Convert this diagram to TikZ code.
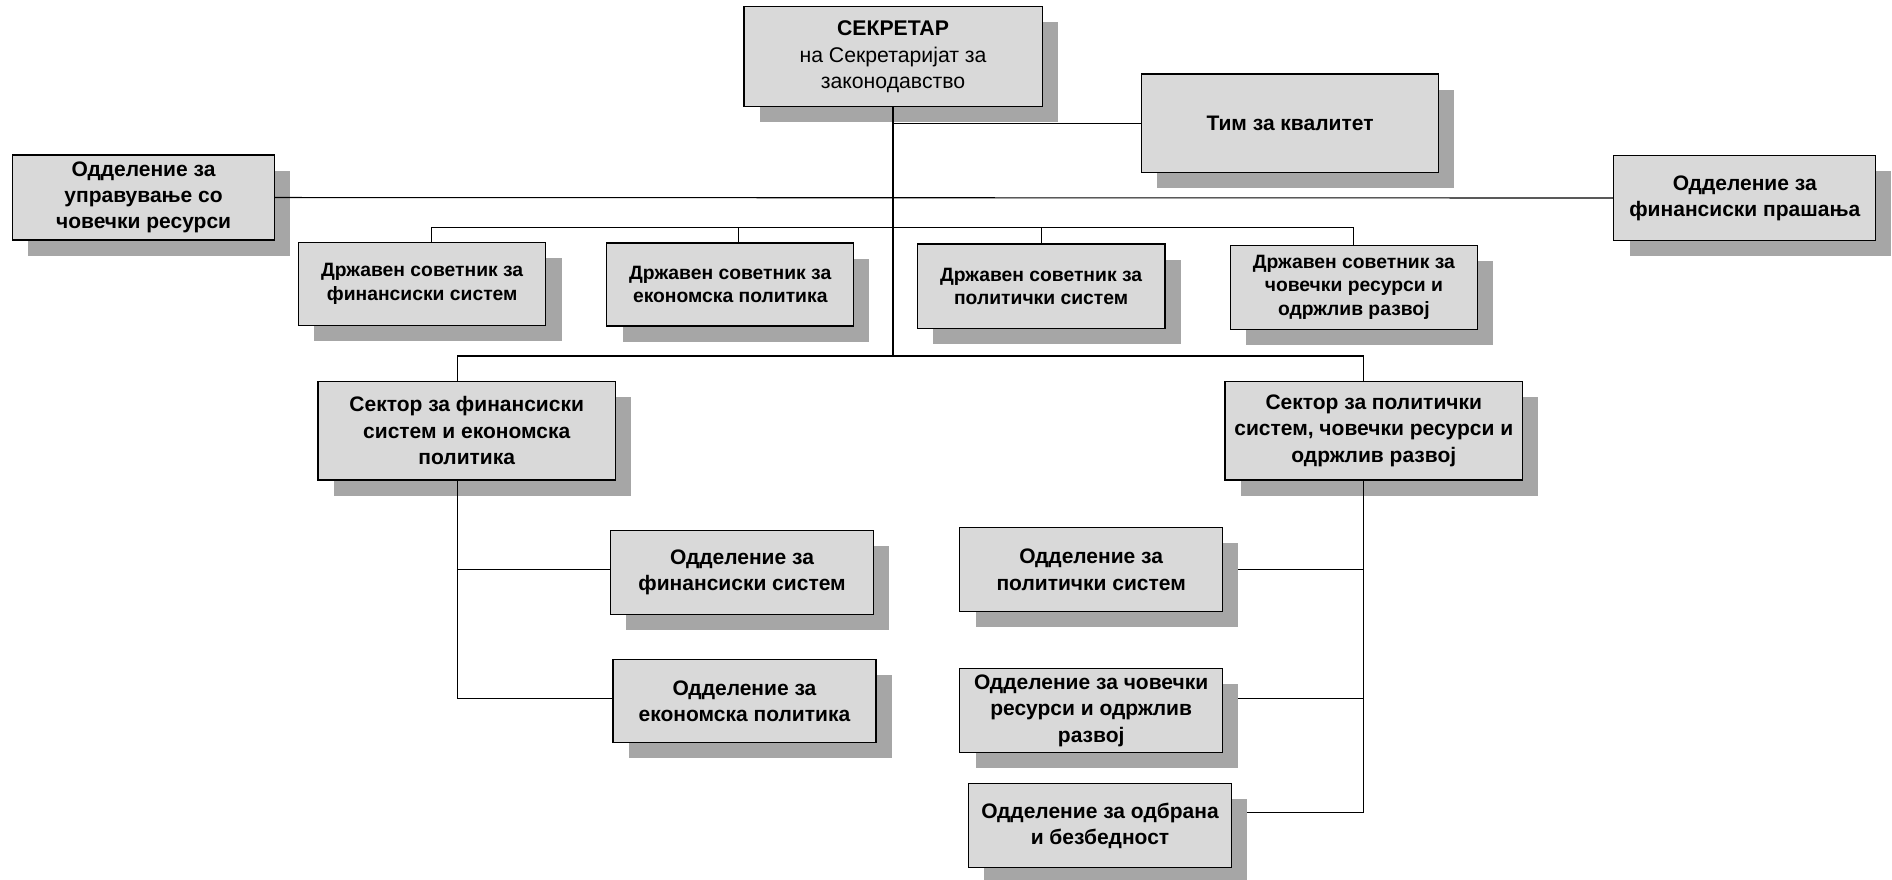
\documentclass[tikz,border=0pt]{standalone}
\usepackage{fontspec}
\setmainfont{Liberation Sans}
\usetikzlibrary{shadows,calc}
\definecolor{boxgray}{RGB}{217,217,217}
\definecolor{shadowgray}{RGB}{166,166,166}
\pgfdeclarelayer{background}
\pgfsetlayers{background,main}
\begin{document}
\begin{tikzpicture}[x=0.5pt,y=-0.5pt,
  orgbox/.style={draw=black, line width=0.5pt, fill=boxgray, align=center, inner sep=0pt,
    font=\bfseries\fontsize{8.7}{10.9}\selectfont,
    general shadow={fill=shadowgray, shadow xshift=6.5pt, shadow yshift=-6.5pt}},
  advbox/.style={orgbox, font=\bfseries\fontsize{8}{9.6}\selectfont},
  bx/.style 2 args={minimum width=#1*0.5pt, minimum height=#2*0.5pt},
  conn/.style={draw=black, line width=0.45pt}]
\useasboundingbox (0,0) rectangle (1568,729);

% nodes
\node[orgbox, bx={247.2}{82.9}, font=\fontsize{8.8}{11}\selectfont] (sec) at (740.1,47) {\textbf{СЕКРЕТАР}\\на Секретаријат за\\законодавство};
\node[orgbox, bx={246.6}{81.7}] (tim) at (1069.1,102.2) {Тим за квалитет};
\node[orgbox, bx={217}{70.4}] (hr) at (119,163.7) {Одделение за\\управување со\\човечки ресурси};
\node[orgbox, bx={217}{70}] (fp) at (1446,164.1) {Одделение за\\финансиски прашања};

\node[advbox, bx={205}{68.3}] (a1) at (349.9,235.3) {Државен советник за\\финансиски систем};
\node[advbox, bx={204.5}{68.8}] (a2) at (605.2,235.8) {Државен советник за\\економска политика};
\node[advbox, bx={205.5}{70}] (a3) at (862.8,237.2) {Државен советник за\\политички систем};
\node[advbox, bx={205}{69.6}] (a4) at (1122,238.1) {Државен советник за\\човечки ресурси и\\одржлив развој};

\node[orgbox, bx={246.4}{81.5}] (s1) at (386.8,357) {Сектор за финансиски\\систем и економска\\политика};
\node[orgbox, bx={246.5}{81.5}] (s2) at (1138.5,357) {Сектор за политички\\систем, човечки ресурси и\\одржлив развој};

\node[orgbox, bx={218.2}{69.1}] (f1) at (615,474.4) {Одделение за\\финансиски систем};
\node[orgbox, bx={218}{69.3}] (f2) at (617,580.9) {Одделение за\\економска политика};

\node[orgbox, bx={217.6}{69.6}] (pol) at (904.3,472.1) {Одделение за\\политички систем};
\node[orgbox, bx={217.6}{69.6}] (hum) at (904.3,589) {Одделение за човечки\\ресурси и одржлив\\развој};
\node[orgbox, bx={218.2}{69.3}] (od) at (911.6,684.2) {Одделение за одбрана\\и безбедност};

% junctions and connector ends
\coordinate (jA) at (740.1,188.8);
\coordinate (jS) at (740.1,295);
\coordinate (a1n) at ([xshift=3.95pt]a1.north);
\coordinate (a2n) at ([xshift=3.55pt]a2.north);
\coordinate (s1n) at ([xshift=-4pt]s1.north);
\coordinate (s2n) at ([xshift=-4.2pt]s2.north);
\coordinate (lv) at ([xshift=-4pt]s1.south);
\coordinate (rv) at ([xshift=-4.2pt]s2.south);
\coordinate (f1w) at ([yshift=1.3pt]f1.west);
\coordinate (f2w) at ([yshift=1pt]f2.west);
\coordinate (hume) at ([yshift=5pt]hum.east);
\coordinate (ode) at ([yshift=5.3pt]od.east);

% connectors
\draw[conn] (sec.south) -- (jS);
\draw[conn] (sec.south |- tim.west) -- (tim.west);
\draw[conn] (hr.east) -- (fp.west);

\draw[conn] (a1n) |- (jA);
\draw[conn] (a2n) |- (jA);
\draw[conn] (a3.north) |- (jA);
\draw[conn] (a4.north) |- (jA);

\draw[conn] (s1n) |- (jS);
\draw[conn] (s2n) |- (jS);

\draw[conn] (lv) |- (f2w);
\draw[conn] (lv |- f1w) -- (f1w);

\draw[conn] (rv) -- (rv |- ode);
\begin{pgfonlayer}{background}
\draw[conn] (pol.east) -- (pol.east -| rv);
\draw[conn] (hume) -- (hume -| rv);
\draw[conn] (ode) -- (ode -| rv);
\end{pgfonlayer}
\end{tikzpicture}
\end{document}
